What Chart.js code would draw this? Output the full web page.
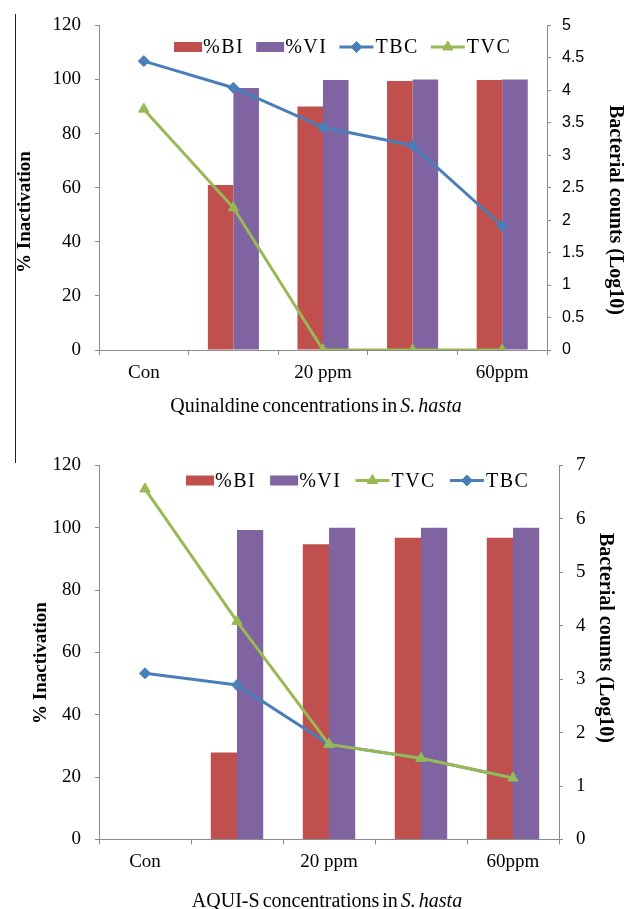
<!DOCTYPE html>
<html lang="en">
<head>
  <meta charset="UTF-8" />
  <title>Quinaldine and AQUI-S inactivation in S. hasta</title>
  <script src="https://cdn.jsdelivr.net/npm/chart.js"></script>
  <style>
    body {
      margin: 0;
      background: #fff;
      width: 624px;
      height: 909px;
      position: relative;
      overflow: hidden;
      font-family: 'Liberation Serif', 'Times New Roman', serif;
      color: #000;
    }
    canvas { position: absolute; left: 0; }
    #quinChart { top: 0; }
    #aquiChart { top: 440px; }

    /* thin frame line on the left */
    .rule {
      position: absolute;
      left: 15px;
      top: 14px;
      width: 1px;
      height: 449px;
      background: #222;
    }

    .title {
      position: absolute;
      white-space: nowrap;
      transform: translate(-50%, -50%);
    }
    .ytitle { font-weight: bold; font-size: 19px; }
    .ytitle.left { transform: translate(-50%, -50%) rotate(-90deg); }
    .ytitle.right { transform: translate(-50%, -50%) rotate(90deg); font-size: 20px; }
    .xtitle { font-size: 20px; word-spacing: -2px; }
  </style>
</head>
<body>
  <div class="rule"></div>

  <canvas id="quinChart" width="624" height="440"></canvas>
  <canvas id="aquiChart" width="624" height="469"></canvas>

  <div class="title ytitle left" style="left:24px; top:212px;">% Inactivation</div>
  <div class="title ytitle right" style="left:616px; top:210px;">Bacterial counts (Log10)</div>
  <div class="title xtitle" style="left:316px; top:405px;">Quinaldine concentrations in <i>S. hasta</i></div>

  <div class="title ytitle left" style="left:40px; top:663px;">% Inactivation</div>
  <div class="title ytitle right" style="left:606px; top:638px;">Bacterial counts (Log10)</div>
  <div class="title xtitle" style="left:327px; top:900px;">AQUI-S concentrations in <i>S. hasta</i></div>

  <script>
    const categories = ['Con', '', '20 ppm', '', '60ppm'];

    // Quinaldine
    const quinBI = [0, 61, 90, 99.4, 99.8];
    const quinVI = [0, 96.9, 99.8, 100, 100];
    const quinTBC = [4.45, 4.04, 3.43, 3.15, 1.91];
    const quinTVC = [3.71, 2.19, 0, 0, 0];

    // AQUI-S
    const aquiBI = [0, 27.9, 94.7, 96.8, 96.8];
    const aquiVI = [0, 99.3, 100, 100, 100];
    const aquiTVC = [6.56, 4.08, 1.78, 1.52, 1.15];
    const aquiTBC = [3.11, 2.89, 1.78, 1.52, 1.15];

    // axis ranges
    const leftAxis = { min: 0, max: 120, step: 20 };
    const quinRightAxis = { min: 0, max: 5, step: 0.5 };
    const aquiRightAxis = { min: 0, max: 7, step: 1 };

    const RED = '#C0504D';
    const PURPLE = '#8064A2';
    const BLUE = '#4A7EBB';
    const GREEN = '#98B954';
    const AXIS = '#8c8c8c';

    Chart.defaults.font.family = "'Liberation Serif', 'Times New Roman', serif";
    Chart.defaults.color = '#000';

    // legend drawn inside the plot, Excel style (line + marker for series lines)
    const excelLegend = {
      id: 'excelLegend',
      afterDatasetsDraw(chart, args, opts) {
        const ctx = chart.ctx;
        ctx.save();
        ctx.font = '20px "Liberation Serif"';
        ctx.letterSpacing = '1.5px';
        ctx.textBaseline = 'middle';
        let x = opts.x;
        const y = opts.y;
        opts.items.forEach(name => {
          const ds = chart.data.datasets.find(d => d.label === name);
          if (ds.type === 'bar') {
            ctx.fillStyle = ds.backgroundColor;
            ctx.fillRect(x, y - 5, 28, 10);
            x += 29;
          } else {
            ctx.strokeStyle = ds.borderColor;
            ctx.lineWidth = 3;
            ctx.beginPath();
            ctx.moveTo(x, y);
            ctx.lineTo(x + 34, y);
            ctx.stroke();
            ctx.fillStyle = ds.backgroundColor;
            ctx.lineWidth = 1;
            Chart.helpers.drawPoint(ctx, {
              pointStyle: ds.pointStyle, radius: ds.pointRadius, rotation: 0, borderWidth: 1
            }, x + 17, y);
            x += 36;
          }
          ctx.fillStyle = '#000';
          ctx.fillText(name, x, y + 1);
          x += ctx.measureText(name).width + opts.gap;
        });
        ctx.restore();
      }
    };

    function barSet(label, data, color) {
      return { type: 'bar', label: label, data: data, backgroundColor: color, yAxisID: 'y', order: 2 };
    }

    function lineSet(label, data, color, marker, order) {
      return {
        type: 'line', label: label, data: data, yAxisID: 'y1', order: order,
        borderColor: color, backgroundColor: color, borderWidth: 3, tension: 0,
        pointStyle: marker, pointRadius: marker === 'triangle' ? 6 : 5.5,
        pointBorderWidth: 1
      };
    }

    function buildChart(id, o) {
      return new Chart(document.getElementById(id), {
        data: { labels: categories, datasets: o.datasets },
        options: {
          responsive: false,
          animation: false,
          layout: { padding: { top: o.top, left: 0, right: 0, bottom: 0 } },
          datasets: { bar: { categoryPercentage: 0.57, barPercentage: 1.0 } },
          plugins: {
            legend: { display: false },
            tooltip: { enabled: false },
            excelLegend: o.legend
          },
          scales: {
            x: {
              type: 'category',
              offset: true,
              grid: { offset: true, drawOnChartArea: false, tickLength: 5, color: AXIS },
              border: { color: AXIS },
              ticks: { autoSkip: false, maxRotation: 0, padding: o.xPad, font: { size: 19 } },
              afterFit(s) { s.height = o.xHeight; }
            },
            y: {
              position: 'left',
              min: leftAxis.min, max: leftAxis.max,
              ticks: { stepSize: leftAxis.step, padding: 14, font: { size: 19 } },
              grid: { drawOnChartArea: false, tickLength: 4, color: AXIS },
              border: { color: AXIS },
              afterFit(s) { s.width = 99; }
            },
            y1: {
              position: 'right',
              min: o.right.min, max: o.right.max,
              ticks: {
                stepSize: o.right.step, padding: o.rightPad, font: o.rightFont,
                callback: v => String(+v.toFixed(2))
              },
              grid: { drawOnChartArea: false, tickLength: 4, color: AXIS },
              border: { color: AXIS },
              afterFit(s) { s.width = 624 - o.rightEdge; }
            }
          }
        },
        plugins: [excelLegend]
      });
    }

    buildChart('quinChart', {
      datasets: [
        barSet('%BI', quinBI, RED),
        barSet('%VI', quinVI, PURPLE),
        lineSet('TBC', quinTBC, BLUE, 'rectRot', 1),
        lineSet('TVC', quinTVC, GREEN, 'triangle', 0)
      ],
      legend: { x: 174, y: 47, gap: 12, items: ['%BI', '%VI', 'TBC', 'TVC'] },
      top: 22.7,
      xHeight: 90,
      xPad: 7,
      right: quinRightAxis,
      rightEdge: 547,
      rightPad: 11,
      rightFont: { family: "'Liberation Sans', Arial, sans-serif", size: 16 }
    });

    buildChart('aquiChart', {
      datasets: [
        barSet('%BI', aquiBI, RED),
        barSet('%VI', aquiVI, PURPLE),
        lineSet('TVC', aquiTVC, GREEN, 'triangle', 0),
        lineSet('TBC', aquiTBC, BLUE, 'rectRot', 1)
      ],
      legend: { x: 186, y: 40.5, gap: 14, items: ['%BI', '%VI', 'TVC', 'TBC'] },
      top: 24,
      xHeight: 69.5,
      xPad: 6,
      right: aquiRightAxis,
      rightEdge: 559,
      rightPad: 13,
      rightFont: { size: 19 }
    });
  </script>
</body>
</html>
